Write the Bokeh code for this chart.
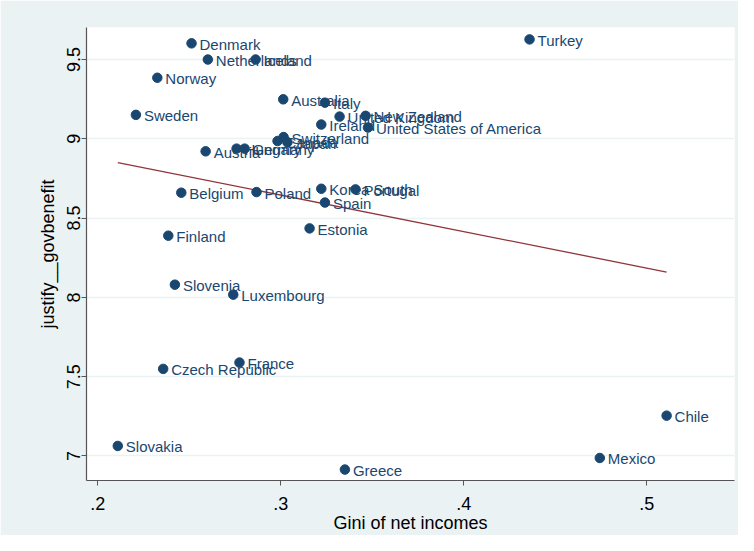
import numpy as np
from bokeh.plotting import figure
from bokeh.models import ColumnDataSource, FixedTicker, Range1d
from bokeh.core.properties import value
from bokeh.embed import file_html
from bokeh.resources import INLINE

countries = ["Denmark", "Netherlands", "Iceland", "Norway", "Australia", "Italy",
             "Sweden", "United Kingdom", "New Zealand", "Ireland",
             "United States of America", "Switzerland", "Canada", "Japan",
             "Austria", "Hungary", "Germany", "Belgium", "Poland", "Korea South",
             "Portugal", "Spain", "Estonia", "Finland", "Slovenia", "Luxembourg",
             "Czech Republic", "France", "Slovakia", "Greece", "Mexico", "Chile",
             "Turkey"]
gini = [0.2512, 0.2601, 0.2862, 0.2325, 0.3013, 0.3241,
        0.2208, 0.3321, 0.3463, 0.3221,
        0.3476, 0.3015, 0.2982, 0.3036,
        0.2589, 0.2758, 0.2802, 0.2456, 0.2867, 0.3221,
        0.3408, 0.3241, 0.3157, 0.2385, 0.2421, 0.2740,
        0.2357, 0.2774, 0.2109, 0.3350, 0.4743, 0.5108,
        0.4359]
justify = [9.602, 9.500, 9.500, 9.385, 9.249, 9.228,
           9.151, 9.140, 9.145, 9.090,
           9.071, 9.011, 8.986, 8.978,
           8.921, 8.938, 8.938, 8.660, 8.664, 8.685,
           8.681, 8.598, 8.435, 8.389, 8.080, 8.017,
           7.549, 7.589, 7.063, 6.914, 6.987, 7.254,
           9.627]

x_ticks = [0.2, 0.3, 0.4, 0.5]
x_tick_labels = [".2", ".3", ".4", ".5"]
y_ticks = [7, 7.5, 8, 8.5, 9, 9.5]
y_tick_labels = ["7", "7.5", "8", "8.5", "9", "9.5"]

NAVY = "#1a476f"
MAROON = "#90353b"
BG = "#eaf2f3"
FONT = "Liberation Sans"

p = figure(width=738, height=535, output_backend="svg", toolbar_location=None,
           x_range=Range1d(0.1938, 0.5479), y_range=Range1d(6.845, 9.702),
           min_border_left=86, min_border_right=4, min_border_top=27,
           min_border_bottom=52)
p.border_fill_color = BG
p.background_fill_color = "white"
p.outline_line_color = None

# grid
p.xgrid.visible = False
p.ygrid.ticker = FixedTicker(ticks=y_ticks)
p.ygrid.grid_line_color = BG
p.ygrid.grid_line_width = 1.5

# axes
for ax in (p.xaxis[0], p.yaxis[0]):
    ax.axis_line_color = "#555555"
    ax.axis_line_width = 1.2
    ax.major_tick_line_color = "#555555"
    ax.major_tick_out = 5
    ax.major_tick_in = 0
    ax.minor_tick_line_color = None
    ax.major_label_text_font = FONT
    ax.major_label_text_font_size = "18px"
    ax.major_label_text_color = "black"
    ax.axis_label_text_font = FONT
    ax.axis_label_text_font_size = "18px"
    ax.axis_label_text_font_style = "normal"
    ax.axis_label_text_color = "black"

p.xaxis.ticker = FixedTicker(ticks=x_ticks)
p.xaxis.major_label_overrides = {t: l for t, l in zip(x_ticks, x_tick_labels)}
p.yaxis.ticker = FixedTicker(ticks=y_ticks)
p.yaxis.major_label_overrides = {t: l for t, l in zip(y_ticks, y_tick_labels)}
p.yaxis.major_label_orientation = "vertical"
p.xaxis.axis_label = "Gini of net incomes"
p.yaxis.axis_label = "justify__govbenefit"
p.xaxis.major_label_standoff = 11
p.xaxis.axis_label_standoff = 0
p.yaxis.major_label_standoff = 1
p.yaxis.axis_label_standoff = 7

src = ColumnDataSource(dict(x=gini, y=justify, name=countries))

# fitted line (OLS)
slope, intercept = np.polyfit(gini, justify, 1)
fx = [min(gini), max(gini)]
fy = [intercept + slope * v for v in fx]
p.line(fx, fy, line_color=MAROON, line_width=1.3)

p.scatter("x", "y", source=src, size=9.5, fill_color=NAVY, line_color=NAVY)
p.text("x", "y", text="name", source=src, x_offset=8, y_offset=1,
       text_font=value(FONT), text_font_size="15px", text_color=NAVY,
       text_baseline="middle", text_align="left")

open("out.html", "w").write(file_html(p, INLINE))
